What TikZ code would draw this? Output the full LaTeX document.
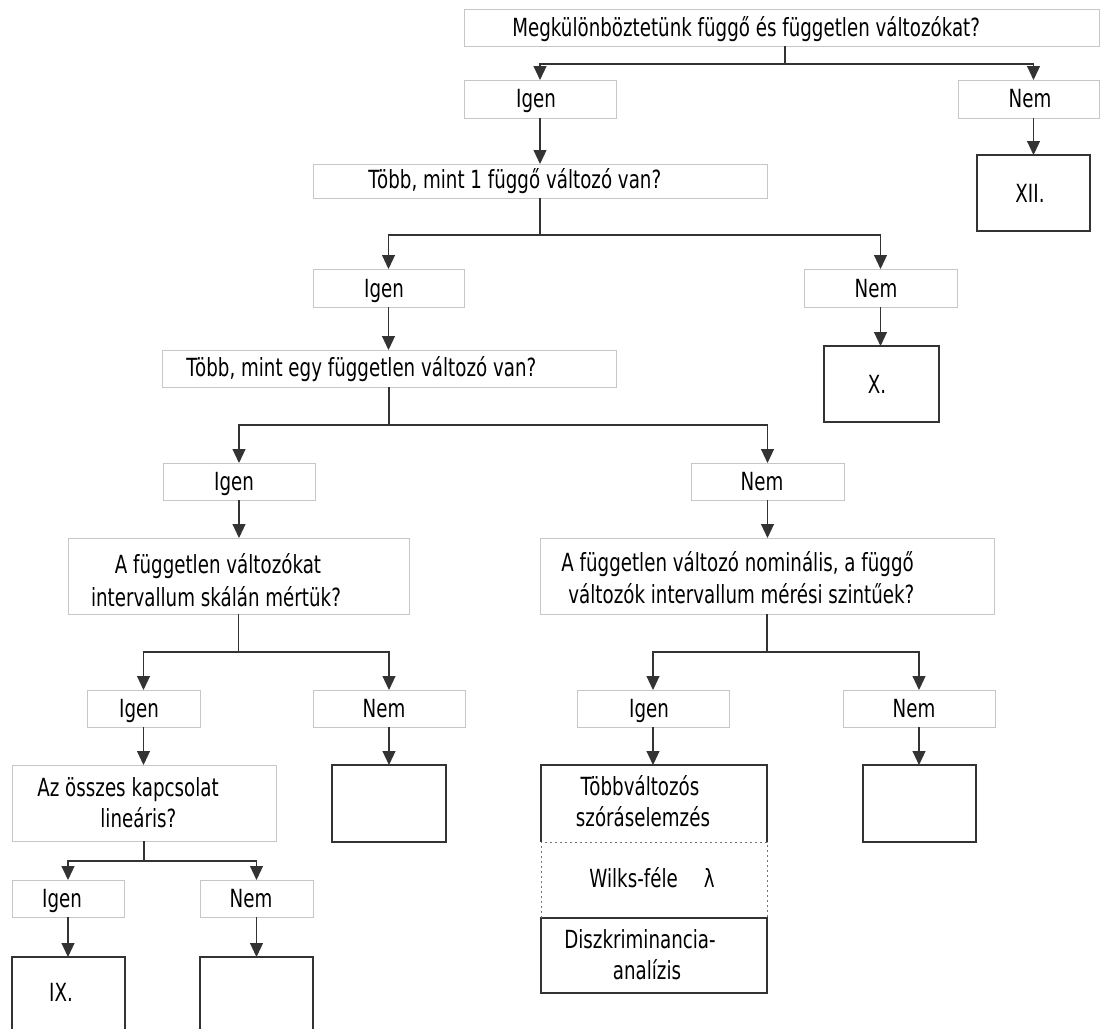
\documentclass[tikz,border=0pt]{standalone}
\usepackage{fontspec}
\setmainfont{DejaVu Sans}[FakeStretch=0.73]
\usetikzlibrary{arrows.meta,fit}
\begin{document}
\begin{tikzpicture}[x=0.5pt,y=-0.5pt,
  qbox/.style={draw=black!22, line width=0.5pt, inner sep=0pt, outer sep=0pt},
  rbox/.style={draw=black!80, line width=0.7pt, inner sep=0pt, outer sep=0pt},
  plain/.style={inner sep=0pt, outer sep=0pt},
  txt/.style={anchor=base, inner sep=0pt, font=\fontsize{12.5}{16}\selectfont},
  conn/.style={draw=black!80, line width=0.55pt},
  arr/.style={conn, -{Triangle[length=7pt,width=6.5pt]}},
  solidedge/.style={draw=black!80, line width=0.7pt},
  dottededge/.style={draw=black!55, line width=0.5pt, dash pattern=on 1pt off 1.5pt},
]
\useasboundingbox (0,0) rectangle (1101,1028);
\clip (0,0) rectangle (1101,1028);

% --- level 1
\node[qbox, fit={(464,9)(1099,46)}] (q1) {};
\node[txt, anchor=base west] (q1t) at (512,36) {Megkülönböztetünk függő és független változókat?};
\node[qbox, fit={(464,80)(616,118)}] (y1) {};
\node[txt] (y1t) at (536,107) {Igen};
\node[qbox, fit={(958,80)(1099,118)}] (n1) {};
\node[txt] (n1t) at (1030,107) {Nem};
\node[rbox, fit={(977,155)(1090,231)}] (r12) {};
\node[txt] (r12t) at (1030,202) {XII.};

% --- level 2
\node[qbox, fit={(313,164)(767,198)}] (q2) {};
\node[txt, anchor=base west] (q2t) at (368,188) {Több, mint 1 függő változó van?};
\node[qbox, fit={(313,269)(464,307)}] (y2) {};
\node[txt] (y2t) at (384,297) {Igen};
\node[qbox, fit={(804,269)(957,307)}] (n2) {};
\node[txt] (n2t) at (876,297) {Nem};
\node[rbox, fit={(824,346)(939,422)}] (r10) {};
\node[txt] (r10t) at (877,393) {X.};

% --- level 3
\node[qbox, fit={(162,350)(616,387)}] (q3) {};
\node[txt, anchor=base west] (q3t) at (186,376) {Több, mint egy független változó van?};
\node[qbox, fit={(163,463)(315,500)}] (y3) {};
\node[txt] (y3t) at (234,490) {Igen};
\node[qbox, fit={(691,463)(844,500)}] (n3) {};
\node[txt] (n3t) at (762,490) {Nem};

% --- level 4
\node[qbox, fit={(68,538)(409,614)}] (q4) {};
\node[txt] (q4a) at (218,573) {A független változókat};
\node[txt] (q4b) at (216,606) {intervallum skálán mértük?};
\node[qbox, fit={(540,538)(994,614)}] (q5) {};
\node[txt, anchor=base west] (q5a) at (561,571) {A független változó nominális, a függő};
\node[txt, anchor=base west] (q5b) at (568,603) {változók intervallum mérési szintűek?};

\node[qbox, fit={(87,690)(200,727)}] (y4) {};
\node[txt] (y4t) at (139,717) {Igen};
\node[qbox, fit={(313,690)(465,727)}] (n4) {};
\node[txt] (n4t) at (384,717) {Nem};
\node[qbox, fit={(577,690)(729,727)}] (y6) {};
\node[txt] (y6t) at (649,717) {Igen};
\node[qbox, fit={(843,690)(995,727)}] (n6) {};
\node[txt] (n6t) at (914,717) {Nem};

% --- level 5
\node[qbox, fit={(12,765)(276,841)}] (q6) {};
\node[txt, anchor=base west] (q6a) at (37,796) {Az összes kapcsolat};
\node[txt, anchor=base west] (q6b) at (100,827) {lineáris?};
\node[rbox, fit={(332,765)(446,842)}] (r4) {};
\node[rbox, fit={(863,765)(976,842)}] (r6) {};

% stacked result box: solid top part, dotted middle part, solid bottom part
\node[plain, fit={(541,765)(767,842)}] (mva) {};
\node[plain, fit={(541,842)(767,918)}] (mvb) {};
\node[rbox, fit={(541,918)(767,993)}] (mvc) {};
\draw[solidedge] (mva.south west) |- (mva.north east) -- (mva.south east);
\draw[dottededge] (mvb.south west) -- (mvb.north west) -- (mvb.north east) -- (mvb.south east);
\node[txt] (mvat) at (640,795) {Többváltozós};
\node[txt] (mvau) at (643,826) {szóráselemzés};
\node[txt, anchor=base west] (mvbt) at (589,887) {Wilks-féle\hspace{13pt}λ};
\node[txt] (mvct) at (640,948) {Diszkriminancia-};
\node[txt] (mvcu) at (647,979) {analízis};

% --- level 6
\node[qbox, fit={(12,880)(124,917)}] (y5) {};
\node[txt] (y5t) at (62,907) {Igen};
\node[qbox, fit={(200,880)(313,917)}] (n5) {};
\node[txt] (n5t) at (251,907) {Nem};
\node[rbox, fit={(12,957)(125,1045)}] (r9) {};
\node[txt] (r9t) at (61,1001) {IX.};
\node[rbox, fit={(200,957)(313,1045)}] (r5) {};

% --- connectors
\coordinate (j1) at (785,64);
\draw[conn] (q1.south -| j1) -- (j1);
\draw[arr] (j1) -| (y1.north);
\draw[arr] (j1) -| (n1.north -| r12.north);
\draw[arr] (y1.south) -- (y1.south |- q2.north);
\draw[arr] (n1.south -| r12.north) -- (r12.north);

\coordinate (j2) at (q2.south |- 0,235);
\draw[conn] (q2.south) -- (j2);
\draw[arr] (j2) -| (y2.north);
\draw[arr] (j2) -| (n2.north);
\draw[arr] (y2.south) -- (y2.south |- q3.north);
\draw[arr] (n2.south) -- (n2.south |- r10.north);

\coordinate (j3) at (q3.south |- 0,425);
\draw[conn] (q3.south) -- (j3);
\draw[arr] (j3) -| (y3.north);
\draw[arr] (j3) -| (n3.north);
\draw[arr] (y3.south) -- (y3.south |- q4.north);
\draw[arr] (n3.south) -- (n3.south |- q5.north);

\coordinate (j4) at (q4.south |- 0,652);
\draw[conn] (q4.south) -- (j4);
\draw[arr] (j4) -| (y4.north);
\draw[arr] (j4) -| (n4.north);
\draw[arr] (y4.south) -- (y4.south |- q6.north);
\draw[arr] (n4.south) -- (n4.south |- r4.north);

\coordinate (j5) at (q5.south |- 0,652);
\draw[conn] (q5.south) -- (j5);
\draw[arr] (j5) -| (y6.north);
\draw[arr] (j5) -| (n6.north);
\draw[arr] (y6.south) -- (y6.south |- mva.north);
\draw[arr] (n6.south) -- (n6.south |- r6.north);

\coordinate (j6) at (q6.south |- 0,861);
\draw[conn] (q6.south) -- (j6);
\draw[arr] (j6) -| (y5.north);
\draw[arr] (j6) -| (n5.north);
\draw[arr] (y5.south) -- (y5.south |- r9.north);
\draw[arr] (n5.south) -- (n5.south |- r5.north);
\end{tikzpicture}
\end{document}
